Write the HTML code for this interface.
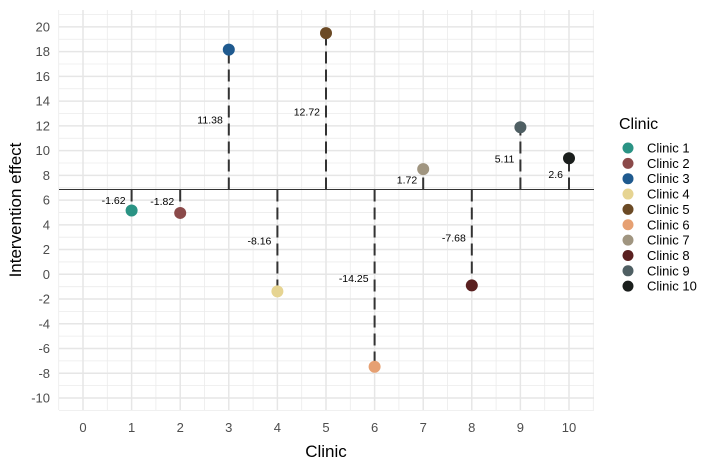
<!DOCTYPE html>
<html><head><style>body{margin:0;background:#fff}</style></head><body>
<svg width="720" height="468" xmlns="http://www.w3.org/2000/svg" font-family="Liberation Sans, sans-serif">
<rect width="720" height="468" fill="#fff"/>
<g stroke="#ebebeb" stroke-width="0.6" id="minor"></g>
<g id="grid"></g>
<script>
const ns="http://www.w3.org/2000/svg";
const svg=document.currentScript.parentNode;
function el(t,a,txt){const e=document.createElementNS(ns,t);for(const k in a)e.setAttribute(k,a[k]);if(txt!==undefined)e.textContent=txt;svg.appendChild(e);return e;}
const X=i=>83+48.6*i, Y=v=>274.3-12.37*v;
// minor grid
for(let v=-11;v<=21;v+=2){el('line',{x1:59,x2:594,y1:Y(v),y2:Y(v),stroke:'#ebebeb','stroke-width':0.8});}
for(let i=-0.5;i<=10.5;i+=1){el('line',{x1:X(i),x2:X(i),y1:10,y2:410,stroke:'#ebebeb','stroke-width':0.8});}
for(let v=-10;v<=20;v+=2){el('line',{x1:59,x2:594,y1:Y(v),y2:Y(v),stroke:'#e6e6e6','stroke-width':1.5});
 el('text',{x:50,y:Y(v)+4.5,'text-anchor':'end','font-size':13,fill:'#4d4d4d'},String(v));}
for(let i=0;i<=10;i++){el('line',{x1:X(i),x2:X(i),y1:10,y2:410,stroke:'#e6e6e6','stroke-width':1.5});
 el('text',{x:X(i),y:432,'text-anchor':'middle','font-size':13,fill:'#4d4d4d'},String(i));}
const base=189.5;
el('line',{x1:59,x2:594,y1:base,y2:base,stroke:'#333','stroke-width':1});
const vals=[5.16,4.96,18.16,-1.38,19.5,-7.47,8.5,-0.9,11.89,9.38];
const labs=['-1.62','-1.82','11.38','-8.16','12.72','-14.25','1.72','-7.68','5.11','2.6'];
const cols=['#2a9384','#8b4a4a','#1f5a8f','#e6d492','#6b4a25','#e6a072','#a09580','#5a2020','#4f5f63','#1a1e1c'];
vals.forEach((v,k)=>{const x=X(k+1),y=Y(v);
 el('line',{x1:x,x2:x,y1:base,y2:y,stroke:'#333','stroke-width':2,'stroke-dasharray':'12,6'});
 el('text',{x:x-6,y:(base+y)/2+4,'text-anchor':'end','font-size':10.5,fill:'#000'},labs[k]);});
vals.forEach((v,k)=>{el('circle',{cx:X(k+1),cy:Y(v),r:6,fill:cols[k]});});
el('text',{x:326,y:457,'text-anchor':'middle','font-size':17,fill:'#000'},'Clinic');
el('text',{x:0,y:0,'text-anchor':'middle','font-size':17,fill:'#000',transform:'translate(21,210) rotate(-90)'},'Intervention effect');
el('text',{x:619,y:129,'font-size':16,fill:'#000'},'Clinic');
cols.forEach((c,k)=>{const y=148+15.35*k;el('circle',{cx:628,cy:y,r:5.5,fill:c});
 el('text',{x:647,y:y+4.5,'font-size':13,fill:'#000'},'Clinic '+(k+1));});
</script>
</svg>
</body></html>
